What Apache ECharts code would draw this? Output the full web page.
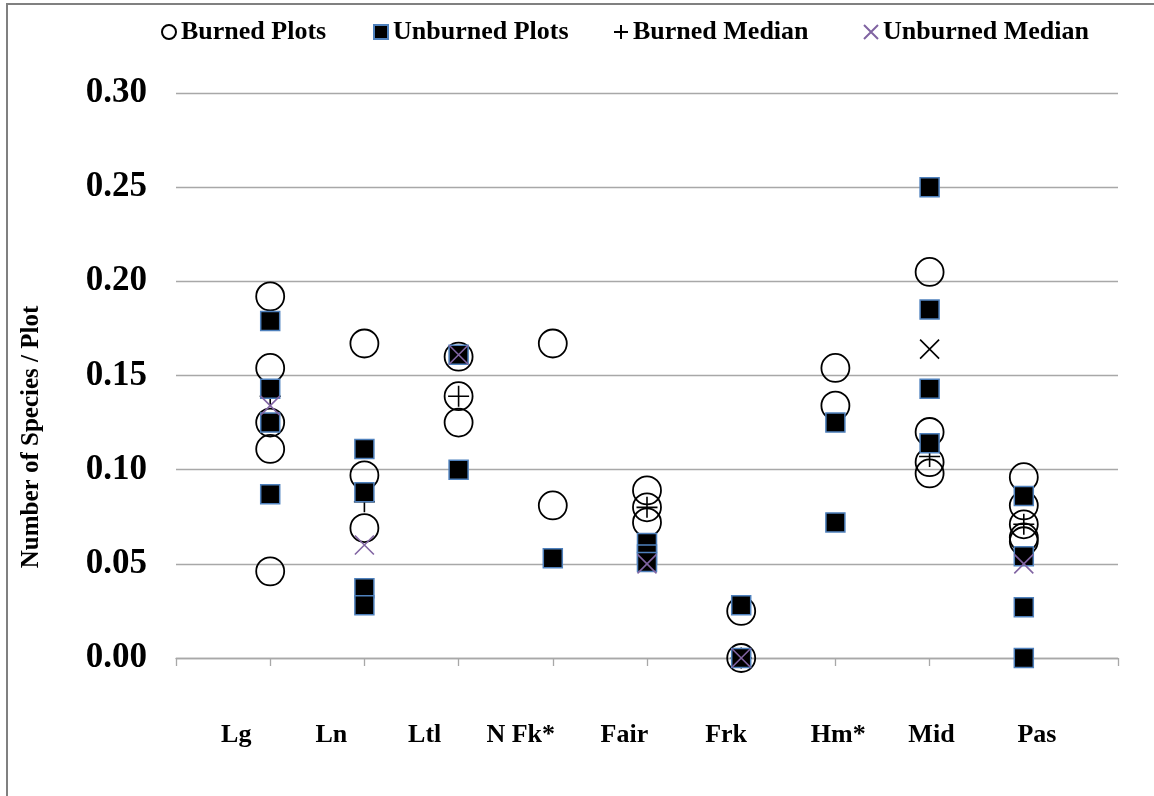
<!DOCTYPE html>
<html>
<head>
<meta charset="utf-8">
<script src="https://cdn.jsdelivr.net/npm/echarts@6/dist/echarts.min.js"></script>
<style>
  html, body { margin: 0; padding: 0; background: #fff; }
  #chart { width: 1154px; height: 796px; }
</style>
</head>
<body>
<div id="chart"></div>
<script>
// Sites along the x axis (one column of plots per site)
const categories = ['Lg', 'Ln', 'Ltl', 'N Fk*', 'Fair', 'Frk', 'Hm*', 'Mid', 'Pas'];

// Number of species per plot, one list per site
const burnedPlots = [
  [0.192, 0.154, 0.125, 0.111, 0.046],
  [0.167, 0.097, 0.069],
  [0.160, 0.139, 0.125],
  [0.167, 0.081],
  [0.089, 0.080, 0.072],
  [0.025, 0.000],
  [0.154, 0.134],
  [0.205, 0.120, 0.104, 0.098],
  [0.096, 0.081, 0.071, 0.064, 0.062]
];
const unburnedPlots = [
  [0.179, 0.143, 0.125, 0.087],
  [0.111, 0.088, 0.037, 0.028],
  [0.161, 0.100],
  [0.053],
  [0.061, 0.055, 0.051],
  [0.028, 0.000],
  [0.125, 0.072],
  [0.250, 0.185, 0.143, 0.114],
  [0.086, 0.054, 0.027, 0.000]
];
const burnedMedian   = [0.139, 0.083, 0.139, null, 0.080, 0.000, null, 0.107, 0.071];
const unburnedMedian = [0.134, 0.060, 0.161, null, 0.050, 0.000, null, 0.164, 0.050];

// Series names, in legend order
const seriesNames = ['Burned Plots', 'Unburned Plots', 'Burned Median', 'Unburned Median'];
const yTitle = 'Number of Species / Plot';

// ---- styling -------------------------------------------------------------
const FONT = '"Liberation Serif", "Times New Roman", serif';
const GRID_GREY = '#a8a8a8';
const SQUARE_EDGE = '#4f81bd';
const PURPLE = '#8064a2';
// site labels sit slightly off their tick, shifted by these amounts (in axis units)
const labelNudge = [-0.36, -0.35, -0.36, -0.34, -0.24, -0.16, 0.03, 0.02, 0.14];
const labelPos = categories.map((c, i) => +(i + 1 + labelNudge[i]).toFixed(3));
const tickPos = Array.from({ length: categories.length + 2 }, (_, i) => i);

const PLUS = 'path://M0,10L20,10M10,0L10,20';
const CROSS = 'path://M0,0L20,20M20,0L0,20';

const toPoints = (lists) => lists.flatMap((vals, i) => vals.map(v => [i + 1, v]));
const toMedianPoints = (vals, special) => vals
  .map((v, i) => (v === null ? null : (special && special(i)
      ? { value: [i + 1, v], itemStyle: { borderColor: '#000' } }
      : [i + 1, v])))
  .filter(p => p !== null);

const legendText = { fontFamily: FONT, fontWeight: 'bold', fontSize: 26, color: '#000' };
const legendAt = (name, left) => ({
  data: [name], left: left, top: 19, itemWidth: 14, itemHeight: 14,
  selectedMode: false, textStyle: legendText, padding: 0
});

const chart = echarts.init(document.getElementById('chart'), null, { renderer: 'canvas' });
chart.setOption({
  animation: false,
  backgroundColor: '#fff',
  legend: [
    legendAt(seriesNames[0], 161),
    legendAt(seriesNames[1], 373),
    legendAt(seriesNames[2], 613),
    legendAt(seriesNames[3], 863)
  ],
  grid: { left: 176, right: 36, top: 93, bottom: 138, containLabel: false, outerBoundsMode: 'none' },
  xAxis: {
    type: 'value', min: 0, max: categories.length + 1, interval: 1,
    splitLine: { show: false },
    axisLine: { show: true, lineStyle: { color: GRID_GREY, width: 1.3 } },
    axisTick: { show: true, length: 8, lineStyle: { color: GRID_GREY, width: 1.3 }, customValues: tickPos },
    axisLabel: {
      customValues: labelPos,
      formatter: (v) => {
        const i = labelPos.findIndex(p => Math.abs(p - v) < 1e-6);
        return i >= 0 ? categories[i] : '';
      },
      margin: 64, fontFamily: FONT, fontWeight: 'bold', fontSize: 26, color: '#000'
    }
  },
  yAxis: {
    type: 'value', min: 0, max: 0.30, interval: 0.05,
    axisLine: { show: false },
    axisTick: { show: false },
    splitLine: { show: true, lineStyle: { color: GRID_GREY, width: 1.3 } },
    axisLabel: {
      formatter: (v) => v.toFixed(2),
      margin: 29, padding: [7, 0, 0, 0],
      fontFamily: FONT, fontWeight: 'bold', fontSize: 35, color: '#000'
    }
  },
  series: [
    {
      name: seriesNames[0], type: 'scatter', silent: true,
      symbol: 'circle', symbolSize: 28,
      itemStyle: { color: 'rgba(0,0,0,0)', borderColor: '#000', borderWidth: 1.8, opacity: 1 },
      data: toPoints(burnedPlots)
    },
    {
      name: seriesNames[2], type: 'scatter', silent: true,
      symbol: PLUS, symbolSize: 21,
      itemStyle: { color: 'rgba(0,0,0,0)', borderColor: '#000', borderWidth: 1.6, opacity: 1 },
      data: toMedianPoints(burnedMedian)
    },
    {
      name: seriesNames[1], type: 'scatter', silent: true,
      symbol: 'rect', symbolSize: 19,
      itemStyle: { color: '#000', borderColor: SQUARE_EDGE, borderWidth: 1.5, opacity: 1 },
      data: toPoints(unburnedPlots)
    },
    {
      name: seriesNames[3], type: 'scatter', silent: true,
      symbol: CROSS, symbolSize: 19,
      itemStyle: { color: 'rgba(0,0,0,0)', borderColor: PURPLE, borderWidth: 1.6, opacity: 1 },
      data: toMedianPoints(unburnedMedian, i => categories[i] === 'Mid')
    }
  ],
  graphic: [
    {
      type: 'polyline', silent: true,
      shape: { points: [[7, 796], [7, 4], [1154, 4]] },
      style: { stroke: '#808080', lineWidth: 2, fill: null }
    },
    {
      type: 'text', silent: true,
      x: 32, y: 437, rotation: Math.PI / 2,
      style: {
        text: yTitle, fontFamily: FONT, fontWeight: 'bold', fontSize: 25,
        fill: '#000', align: 'center', verticalAlign: 'middle'
      }
    }
  ]
});
</script>
</body>
</html>
